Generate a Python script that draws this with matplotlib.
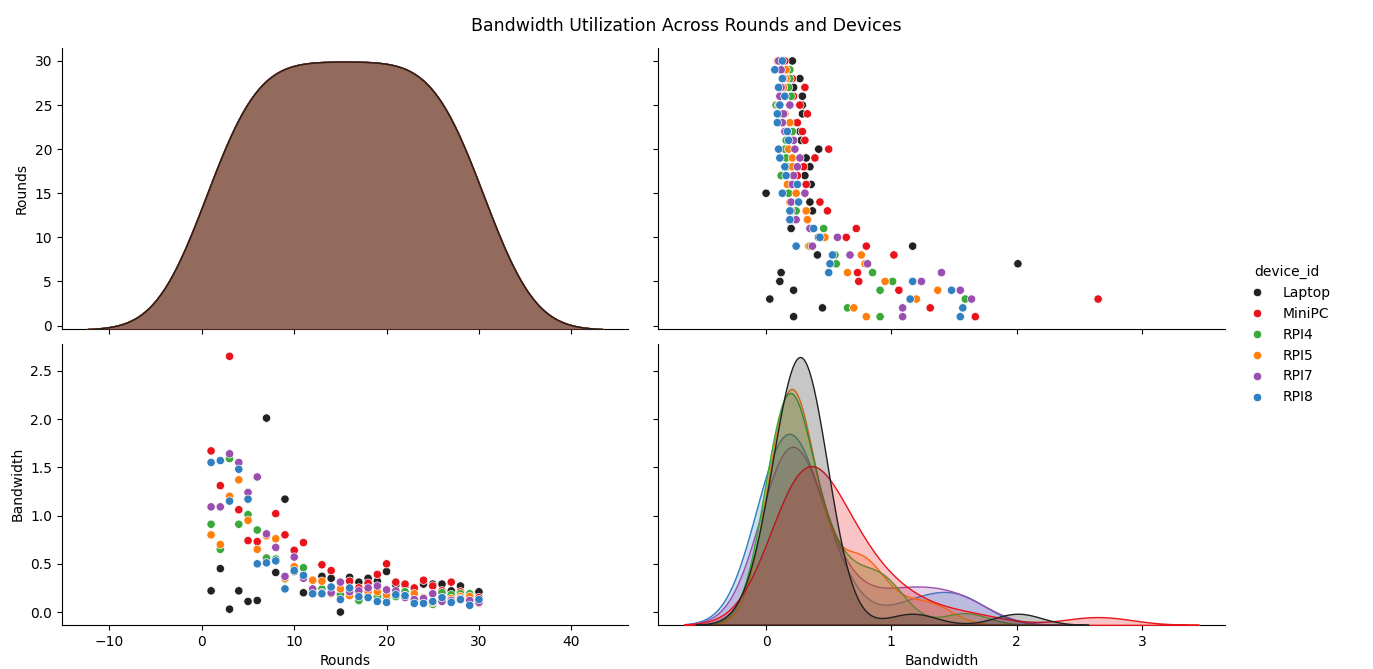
import numpy as np
import pandas as pd
import seaborn as sns
from matplotlib import pyplot as plt

rounds = list(range(1, 31))
devices = ["Laptop", "MiniPC", "RPI4", "RPI5", "RPI7", "RPI8"]
colors = ["#222222", "#e8141c", "#3aa83a", "#ff7f0e", "#9a4fb0", "#2f7fc1"]

laptop = [0.22, 0.45, 0.03, 0.22, 0.11, 0.12, 2.01, 0.41, 1.17, 0.42,
          0.20, 0.19, 0.37, 0.35, 0.00, 0.36, 0.31, 0.35, 0.32, 0.42,
          0.28, 0.27, 0.24, 0.29, 0.29, 0.29, 0.22, 0.27, 0.17, 0.21]
minipc = [1.67, 1.31, 2.65, 1.06, 0.74, 0.73, 0.56, 1.02, 0.80, 0.64,
          0.72, 0.33, 0.49, 0.43, 0.31, 0.32, 0.25, 0.30, 0.39, 0.50,
          0.31, 0.29, 0.25, 0.33, 0.27, 0.22, 0.31, 0.21, 0.16, 0.15]
rpi4 = [0.91, 0.65, 1.59, 0.91, 1.01, 0.85, 0.56, 0.55, 0.34, 0.45,
        0.46, 0.21, 0.24, 0.25, 0.18, 0.19, 0.12, 0.17, 0.16, 0.15,
        0.16, 0.21, 0.11, 0.12, 0.08, 0.20, 0.18, 0.19, 0.19, 0.12]
rpi5 = [0.80, 0.70, 1.20, 1.37, 0.95, 0.65, 0.79, 0.76, 0.35, 0.47,
        0.36, 0.33, 0.32, 0.19, 0.24, 0.17, 0.21, 0.21, 0.21, 0.18,
        0.20, 0.17, 0.19, 0.15, 0.10, 0.15, 0.14, 0.16, 0.16, 0.09]
rpi7 = [1.09, 1.09, 1.64, 1.55, 1.24, 1.40, 0.81, 0.67, 0.37, 0.57,
        0.35, 0.24, 0.20, 0.20, 0.31, 0.21, 0.22, 0.25, 0.27, 0.23,
        0.22, 0.15, 0.13, 0.14, 0.19, 0.11, 0.12, 0.14, 0.12, 0.10]
rpi8 = [1.55, 1.57, 1.15, 1.48, 1.17, 0.50, 0.51, 0.53, 0.24, 0.43,
        0.38, 0.19, 0.19, 0.26, 0.13, 0.25, 0.16, 0.15, 0.11, 0.10,
        0.18, 0.17, 0.09, 0.09, 0.11, 0.15, 0.10, 0.13, 0.07, 0.13]

bw = {"Laptop": laptop, "MiniPC": minipc, "RPI4": rpi4,
      "RPI5": rpi5, "RPI7": rpi7, "RPI8": rpi8}

rows = []
for r_i, r in enumerate(rounds):
    for d in devices:
        rows.append({"Rounds": r, "Bandwidth": bw[d][r_i], "device_id": d})
df = pd.DataFrame(rows)

palette = dict(zip(devices, colors))
g = sns.pairplot(df, vars=["Rounds", "Bandwidth"], hue="device_id",
                 hue_order=devices, palette=palette, height=3, aspect=2)

g.figure.set_size_inches(13.73, 6.69)
g.figure.subplots_adjust(left=0.045, right=0.892, top=0.928, bottom=0.066,
                         wspace=0.053, hspace=0.05)
g._legend.set_bbox_to_anchor((0.978, 0.5))
g.figure.suptitle("Bandwidth Utilization Across Rounds and Devices", fontsize=12.5, y=0.975)

plt.savefig("out.png", dpi=100)
